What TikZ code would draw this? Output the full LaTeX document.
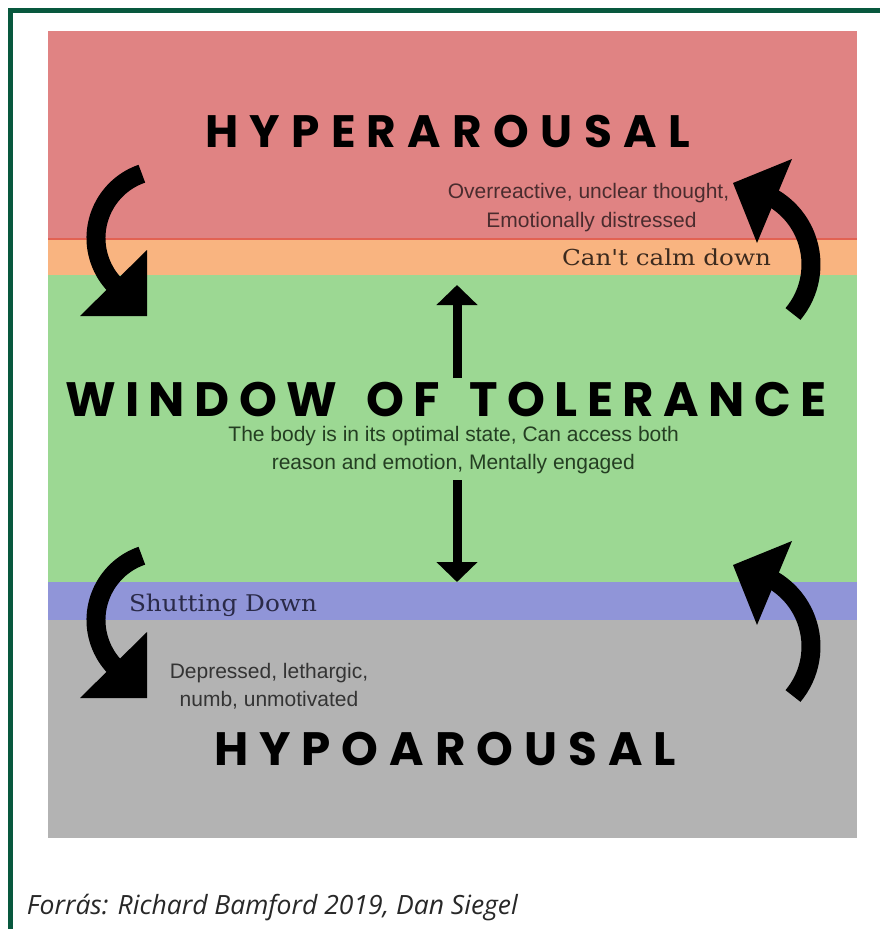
\documentclass[tikz,border=0pt]{standalone}
\usepackage{fontspec}
\usepackage{graphicx}
\usetikzlibrary{arrows.meta}
\setmainfont{Liberation Sans}
\newfontfamily\hdfont{Poppins}
\newfontfamily\serfont{DejaVu Serif}[Ligatures=TeXOff]
\newfontfamily\capfont{Open Sans}
\definecolor{framec}{RGB}{8,88,62}
\definecolor{hyperc}{RGB}{224,131,131}
\definecolor{redline}{RGB}{226,98,82}
\definecolor{calmc}{RGB}{249,180,128}
\definecolor{greenc}{RGB}{156,216,147}
\definecolor{shutc}{RGB}{144,149,216}
\definecolor{grayc}{RGB}{179,179,179}
\definecolor{txtred}{RGB}{74,44,46}
\definecolor{txtgreen}{RGB}{36,62,34}
\definecolor{txtgray}{RGB}{52,52,52}
\definecolor{calmtxt}{RGB}{60,42,30}
\definecolor{shuttxt}{RGB}{42,42,72}
\definecolor{captxt}{RGB}{40,40,40}
\newlength\hdnat
\newlength\hdtrk
\newlength\hdsize
\makeatletter
\def\hd@sp#1{\ifx#1\relax\else#1\kern\hdtrk\expandafter\hd@sp\fi}
\newcommand\headline[4]{%
  \hdfont\bfseries\fontsize{100pt}{100pt}\selectfont
  \hdsize=\dimexpr #1*6553600/\fontcharht\font`\H\relax
  \fontsize{\the\hdsize}{\the\hdsize}\selectfont
  \settowidth\hdnat{#4}%
  \hdtrk=\dimexpr(#2-\hdnat)/#3\relax
  \hd@sp#4\relax\unkern}
\makeatother
\begin{document}
\begin{tikzpicture}[x=1pt,y=-1pt,
  txt/.style={inner sep=0pt, outer sep=0pt, anchor=base},
  body/.style={txt, font=\fontsize{21pt}{21pt}\selectfont},
  head/.style={txt, anchor=base west, text=black},
  band/.style={line width=19pt, black},
  straight/.style={line width=9pt, black, -{Triangle[width=40pt,length=20pt]}}]
\useasboundingbox (0,0) rectangle (880,929);
\fill[white] (0,0) rectangle (880,929);
% frame
\fill[framec] (8,8) rectangle (880,13);
\fill[framec] (8,8) rectangle (13,929);
% bands
\fill[hyperc] (48,31) rectangle (857,239);
\fill[calmc] (48,239) rectangle (857,275);
\fill[greenc] (48,275) rectangle (857,582);
\fill[shutc] (48,582) rectangle (857,620);
\fill[grayc] (48,620) rectangle (857,838);
\draw[line width=2pt, redline] (48,239) -- (857,239);

% headings
\node[head] (hyper) at (205,147) {\headline{32pt}{485pt}{11}{HYPERAROUSAL}};
\node[head] (wot) at (65,416) {\headline{34pt}{762pt}{18}{WINDOW\ OF\ TOLERANCE}};
\node[head] (hypo) at (214,765.5) {\headline{33pt}{462pt}{10}{HYPOAROUSAL}};

% body texts
\node[body, text=txtred] (ov1) at (588.5,198) {Overreactive, unclear thought,};
\node[body, text=txtred] (ov2) at (591.5,227) {Emotionally distressed};
\node[body, text=txtgreen] (gr1) at (453.7,441) {The body is in its optimal state, Can access both};
\node[body, text=txtgreen] (gr2) at (453.3,469) {reason and emotion, Mentally engaged};
\node[body, text=txtgray] (dp1) at (269,678) {Depressed, lethargic,};
\node[body, text=txtgray] (dp2) at (269,706) {numb, unmotivated};

% serif labels
\node[txt, anchor=base west, text=calmtxt] (calm) at (562,265.5)
  {\resizebox{209pt}{\height}{\serfont\fontsize{22pt}{22pt}\selectfont Can't calm down}};
\node[txt, anchor=base west, text=shuttxt] (shut) at (129,611)
  {\resizebox{188pt}{\height}{\serfont\fontsize{23pt}{23pt}\selectfont Shutting Down}};

% caption
\node[txt, anchor=base west, text=captxt] (cap) at (27,914)
  {\capfont\itshape\fontsize{26.5pt}{26.5pt}\selectfont Forrás: Richard Bamford 2019, Dan Siegel};

% straight arrows
\coordinate (upB) at (457,378);
\coordinate (upT) at (457,285);
\coordinate (dnT) at (457,480);
\coordinate (dnB) at (457,582);
\draw[straight] (upB) -- (upT);
\draw[straight] (dnT) -- (dnB);

% curved arrows (top)
\draw[band] ([shift={(164,238)}]251:68) arc[start angle=251, end angle=135, radius=68];
\fill[black] (147,250) -- (147,316) -- (80,316) -- cycle;
\draw[band] ([shift={(734,264.5)}]40:77) arc[start angle=40, end angle=-60, radius=77];
\fill[black] (733,183) -- (792,159) -- (757,243) -- cycle;
% curved arrows (bottom)
\draw[band] ([shift={(164,620)}]251:68) arc[start angle=251, end angle=135, radius=68];
\fill[black] (147,632) -- (147,698) -- (80,698) -- cycle;
\draw[band] ([shift={(734,646.5)}]40:77) arc[start angle=40, end angle=-60, radius=77];
\fill[black] (733,565) -- (792,541) -- (757,625) -- cycle;
\end{tikzpicture}
\end{document}
